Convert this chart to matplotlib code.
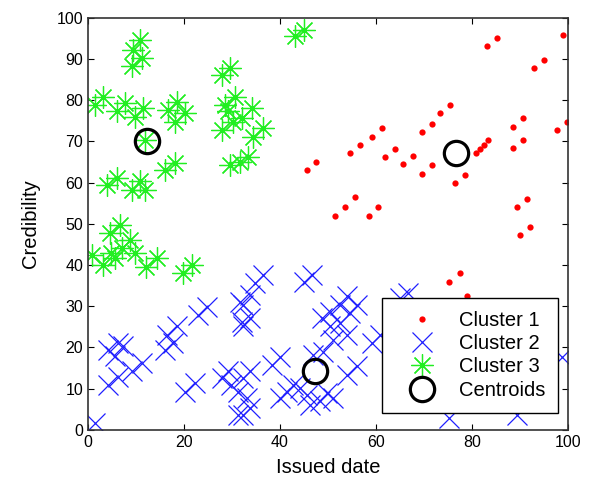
import matplotlib
matplotlib.use("Agg")
import matplotlib.pyplot as plt

plt.rcParams["font.family"] = ["Liberation Sans", "DejaVu Sans"]

# Cluster 1 (red dots)
c1_x = [45.6, 47.6, 54.6, 56.7, 59.1, 61.2, 61.9, 64.0, 65.7, 67.6, 69.5, 71.6,
        73.3, 75.4, 69.5, 71.6, 76.5, 78.5, 80.8, 81.7, 82.5, 83.4, 83.1, 85.1,
        88.6, 90.7, 88.5, 90.7, 92.8, 94.9, 99.0, 97.6, 99.7, 51.5, 53.5, 55.6,
        58.6, 60.5, 89.3, 91.4, 92.1, 90.0, 75.3, 77.4, 78.9]
c1_y = [63.1, 65.1, 67.2, 69.2, 71.2, 73.2, 66.2, 68.1, 64.5, 66.5, 72.3, 74.3,
        77.0, 78.9, 62.1, 64.2, 59.9, 61.9, 67.3, 68.1, 69.2, 70.4, 93.2, 95.1,
        73.6, 75.7, 68.4, 70.4, 87.8, 89.8, 95.9, 72.8, 74.8, 52.0, 54.2, 56.5,
        51.9, 54.1, 54.1, 56.1, 49.3, 47.3, 36.0, 38.0, 32.6]

# Cluster 2 (blue crosses)
c2_x = [1.5, 4.2, 6.3, 9.1, 11.2, 4.2, 6.3, 5.6, 7.4, 16.0, 17.8, 16.4, 18.5,
        23.0, 24.7, 20.2, 22.3, 27.9, 29.2, 29.9, 31.3, 31.3, 32.0, 31.7,
        36.5, 34.8, 33.8, 32.4, 33.8, 32.4, 46.6, 44.9, 53.9, 56.0, 52.5, 50.4,
        54.6, 48.7, 52.5, 50.4, 53.9, 51.1, 49.0, 46.9, 59.1, 60.8, 40.0, 38.3,
        33.8, 32.4, 56.0, 53.9, 42.8, 44.2, 41.4, 40.0, 45.6, 49.7, 51.1, 46.3,
        48.3, 33.1, 33.8, 32.4, 66.7, 65.0, 98.7, 75.1, 89.3]
c2_y = [1.6, 10.9, 12.9, 14.2, 16.2, 19.4, 21.2, 17.9, 20.4, 19.4, 21.0, 23.1,
        25.1, 27.9, 29.9, 9.3, 11.3, 12.5, 14.2, 10.9, 9.3, 3.6, 26.3, 31.1,
        37.6, 35.6, 32.8, 30.3, 27.1, 25.1, 37.6, 36.0, 32.4, 30.3, 30.3, 28.7,
        28.3, 27.1, 25.9, 25.1, 23.1, 21.8, 19.0, 18.2, 21.0, 23.1, 17.8, 15.8,
        14.2, 12.5, 15.4, 13.3, 10.9, 10.1, 9.3, 7.7, 8.5, 8.9, 7.7, 6.1,
        6.9, 7.7, 5.3, 3.6, 33.2, 32.0, 17.8, 2.8, 3.6]

# Cluster 3 (green asterisks)
c3_x = [9.1, 11.2, 9.4, 10.8, 3.2, 1.5, 7.7, 6.0, 11.5, 9.8, 18.5, 16.7, 20.2,
        18.1, 11.9, 43.1, 44.9, 29.6, 27.9, 30.6, 28.5, 29.2, 34.1, 32.0, 36.5,
        34.4, 27.9, 30.3, 29.6, 31.7, 33.4, 18.1, 16.0, 6.0, 3.9, 10.8, 9.1,
        11.9, 6.7, 4.6, 8.8, 7.0, 4.9, 0.8, 3.2, 9.8, 5.6, 14.3, 12.2, 21.6, 19.9]
c3_y = [88.2, 90.2, 92.2, 94.7, 80.9, 78.9, 79.3, 77.3, 78.1, 76.0, 79.7, 77.7,
        76.9, 74.8, 70.4, 95.5, 97.1, 87.8, 86.2, 80.9, 78.9, 77.3, 78.1, 75.7,
        73.2, 71.2, 72.8, 74.8, 64.3, 65.1, 66.3, 64.7, 63.1, 61.1, 59.5, 60.3,
        58.3, 58.3, 49.8, 47.7, 46.1, 44.1, 42.9, 42.5, 40.0, 42.9, 41.7, 41.7,
        39.6, 40.0, 38.0]

# Centroids
cen_x = [76.7, 47.3, 12.4]
cen_y = [67.3, 14.2, 70.0]

fig = plt.figure(figsize=(5.98, 4.83), dpi=100)
ax = fig.add_axes([0.147, 0.110, 0.803, 0.853])

ax.plot(c1_x, c1_y, "o", color="#ff0000", markersize=4.5, markeredgewidth=0,
        label="Cluster 1")
ax.plot(c2_x, c2_y, "x", color="#2020ff", markersize=14, markeredgewidth=0.9,
        label="Cluster 2")
ax.plot(c3_x, c3_y, marker=(8, 2, 0), linestyle="none", color="#22ee22",
        markersize=16, markeredgewidth=0.9, label="Cluster 3")
ax.plot(cen_x, cen_y, "o", markerfacecolor="none", markeredgecolor="black",
        markersize=17.5, markeredgewidth=2.3, label="Centroids")

ax.set_xlim(0, 100)
ax.set_ylim(0, 100)
ax.set_xticks([0, 20, 40, 60, 80, 100])
ax.set_yticks(range(0, 101, 10))
ax.tick_params(direction="in", top=True, right=True, labelsize=11.5,
               length=4, width=0.8)
for s in ax.spines.values():
    s.set_linewidth(1.2)
    s.set_color("#333333")

ax.set_xlabel("Issued date", fontsize=14.5, labelpad=6)
ax.set_ylabel("Credibility", fontsize=14.5, labelpad=12)

leg = ax.legend(loc="lower right", bbox_to_anchor=(0.979, 0.041),
                borderaxespad=0, fontsize=14.5, fancybox=False,
                framealpha=1, edgecolor="black", handletextpad=0.45,
                labelspacing=0.22, handlelength=2.7, borderpad=0.65)
leg.get_frame().set_linewidth(1.0)

fig.savefig("out.png", dpi=100)
